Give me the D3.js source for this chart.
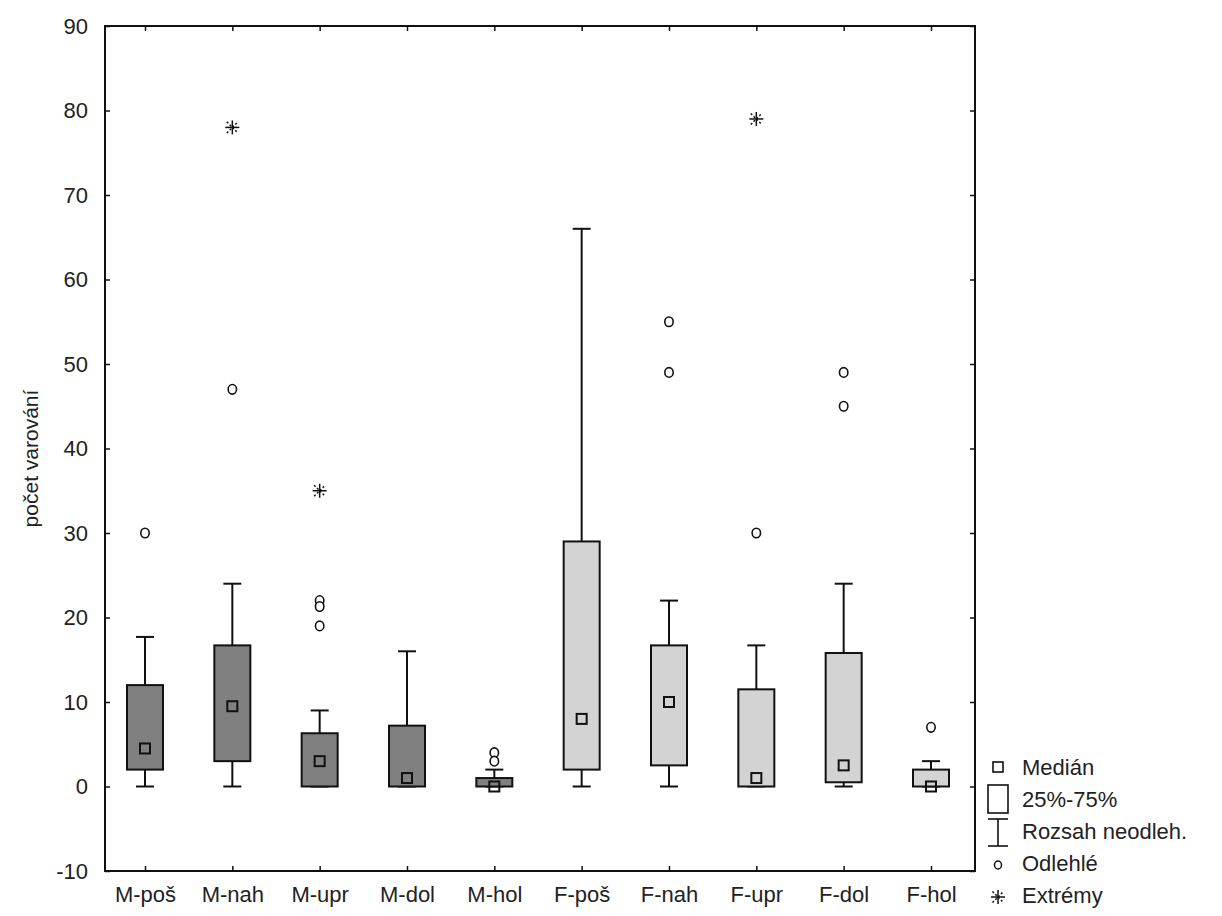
<!DOCTYPE html>
<html>
<head>
<meta charset="utf-8">
<script src="https://cdn.jsdelivr.net/npm/d3@7"></script>
<style>
body { margin: 0; background: #fff; }
text { font-family: "Liberation Sans", Arial, sans-serif; fill: #222; }
</style>
</head>
<body>
<svg width="1222" height="916"></svg>
<script>
// data
var categories = ["M-poš", "M-nah", "M-upr", "M-dol", "M-hol", "F-poš", "F-nah", "F-upr", "F-dol", "F-hol"];
var medians   = [4.5, 9.5, 3, 1, 0, 8, 10, 1, 2.5, 0];
var q1        = [2, 3, 0, 0, 0, 2, 2.5, 0, 0.5, 0];
var q3        = [12, 16.7, 6.3, 7.2, 1, 29, 16.7, 11.5, 15.8, 2];
var whiskLow  = [0, 0, 0, 0, 0, 0, 0, 0, 0, 0];
var whiskHigh = [17.7, 24, 9, 16, 2, 66, 22, 16.7, 24, 3];
var outliers  = [[30], [47], [22, 21.3, 19], [], [4, 3], [], [55, 49], [30], [49, 45], [7]];
var extremes  = [[], [78], [35], [], [], [], [], [79], [], []];
var yTicks = [-10, 0, 10, 20, 30, 40, 50, 60, 70, 80, 90];
var legendLabels = ["Medián", "25%-75%", "Rozsah neodleh.", "Odlehlé", "Extrémy"];

var svg = d3.select("svg");
var pLeft = 105, pRight = 975, pTop = 26, pBottom = 871;
var fs = 22;

var x = d3.scalePoint().domain(categories).range([145, 931]);
var y = d3.scaleLinear().domain([-10, 90]).range([pBottom, pTop]);

function fillFor(c) { return c[0] == "M" ? "#808080" : "#d3d3d3"; }

// frame
svg.append("rect")
    .attr("x", pLeft).attr("y", pTop)
    .attr("width", pRight - pLeft).attr("height", pBottom - pTop)
    .attr("fill", "none").attr("stroke", "#111").attr("stroke-width", 2);

function styleAxis(g) {
    g.select(".domain").remove();
    g.selectAll("line").attr("stroke", "#111").attr("stroke-width", 1.5);
    g.selectAll("text").attr("font-size", fs).attr("fill", "#222")
        .attr("font-family", "Liberation Sans, Arial, sans-serif");
}

// axes with inward ticks
svg.append("g").attr("transform", "translate(" + pLeft + ",0)")
    .call(d3.axisLeft(y).tickValues(yTicks).tickSizeInner(-5).tickSizeOuter(0).tickPadding(17)
        .tickFormat(function(d) { return String(d); }))
    .call(styleAxis);
svg.append("g").attr("transform", "translate(" + pRight + ",0)")
    .call(d3.axisRight(y).tickValues(yTicks).tickSizeInner(-5).tickSizeOuter(0).tickFormat(""))
    .call(styleAxis);
svg.append("g").attr("transform", "translate(0," + pBottom + ")")
    .call(d3.axisBottom(x).tickSizeInner(-5).tickSizeOuter(0).tickPadding(15))
    .call(styleAxis);
svg.append("g").attr("transform", "translate(0," + pTop + ")")
    .call(d3.axisTop(x).tickSizeInner(-5).tickSizeOuter(0).tickFormat(""))
    .call(styleAxis);

// y label
svg.append("text")
    .attr("transform", "translate(38," + ((pTop + pBottom) / 2 + 10) + ") rotate(-90)")
    .attr("text-anchor", "middle")
    .attr("font-size", 21)
    .text("počet varování");

var boxW = 36, capW = 18, medS = 10;

var g = svg.selectAll(".box").data(categories).enter().append("g").attr("class", "box");

// whiskers
g.append("line")
    .attr("x1", function(d) { return x(d); }).attr("x2", function(d) { return x(d); })
    .attr("y1", function(d, i) { return y(whiskLow[i]); })
    .attr("y2", function(d, i) { return y(whiskHigh[i]); })
    .attr("stroke", "#111").attr("stroke-width", 2);
g.append("line")
    .attr("x1", function(d) { return x(d) - capW / 2; }).attr("x2", function(d) { return x(d) + capW / 2; })
    .attr("y1", function(d, i) { return y(whiskHigh[i]); })
    .attr("y2", function(d, i) { return y(whiskHigh[i]); })
    .attr("stroke", "#111").attr("stroke-width", 2);
g.append("line")
    .attr("x1", function(d) { return x(d) - capW / 2; }).attr("x2", function(d) { return x(d) + capW / 2; })
    .attr("y1", function(d, i) { return y(whiskLow[i]); })
    .attr("y2", function(d, i) { return y(whiskLow[i]); })
    .attr("stroke", "#111").attr("stroke-width", 2);

// boxes
g.append("rect")
    .attr("x", function(d) { return x(d) - boxW / 2; })
    .attr("y", function(d, i) { return y(q3[i]); })
    .attr("width", boxW)
    .attr("height", function(d, i) { return y(q1[i]) - y(q3[i]); })
    .attr("fill", function(d) { return fillFor(d); })
    .attr("stroke", "#111").attr("stroke-width", 2);

// medians
g.append("rect")
    .attr("x", function(d) { return x(d) - medS / 2; })
    .attr("y", function(d, i) { return y(medians[i]) - medS / 2; })
    .attr("width", medS).attr("height", medS)
    .attr("fill", "none")
    .attr("stroke", "#111").attr("stroke-width", 2);

function drawStar(sel, cx, cy) {
    var s = 7, d = 5.5;
    var st = sel.append("g").attr("stroke", "#111").attr("stroke-width", 1.5);
    st.append("line").attr("x1", cx).attr("x2", cx).attr("y1", cy - s).attr("y2", cy + s);
    st.append("line").attr("x1", cx - s).attr("x2", cx + s).attr("y1", cy).attr("y2", cy);
    st.append("line").attr("x1", cx - d).attr("x2", cx + d).attr("y1", cy - d).attr("y2", cy + d)
        .attr("stroke-dasharray", "2,2");
    st.append("line").attr("x1", cx - d).attr("x2", cx + d).attr("y1", cy + d).attr("y2", cy - d)
        .attr("stroke-dasharray", "2,2");
}

// outliers and extremes
categories.forEach(function(c, i) {
    outliers[i].forEach(function(v) {
        svg.append("ellipse")
            .attr("cx", x(c)).attr("cy", y(v))
            .attr("rx", 4.2).attr("ry", 4.8)
            .attr("fill", "#fff").attr("stroke", "#111").attr("stroke-width", 1.6);
    });
    extremes[i].forEach(function(v) {
        drawStar(svg, x(c), y(v));
    });
});

// legend
var lx = 998, ly = 767, step = 32;
svg.append("rect").attr("x", lx - 5).attr("y", ly - 5).attr("width", 10).attr("height", 10)
    .attr("fill", "#fff").attr("stroke", "#111").attr("stroke-width", 1.6);
svg.append("rect").attr("x", lx - 10).attr("y", ly + step - 14).attr("width", 20).attr("height", 28)
    .attr("fill", "#fff").attr("stroke", "#111").attr("stroke-width", 1.6);
var wy = ly + 2 * step;
svg.append("line").attr("x1", lx).attr("x2", lx).attr("y1", wy - 12).attr("y2", wy + 15)
    .attr("stroke", "#111").attr("stroke-width", 1.6);
svg.append("line").attr("x1", lx - 10).attr("x2", lx + 10).attr("y1", wy - 12).attr("y2", wy - 12)
    .attr("stroke", "#111").attr("stroke-width", 1.6);
svg.append("line").attr("x1", lx - 10).attr("x2", lx + 10).attr("y1", wy + 15).attr("y2", wy + 15)
    .attr("stroke", "#111").attr("stroke-width", 1.6);
svg.append("ellipse").attr("cx", lx).attr("cy", ly + 3 * step + 2).attr("rx", 3.5).attr("ry", 4)
    .attr("fill", "#fff").attr("stroke", "#111").attr("stroke-width", 1.5);
drawStar(svg, lx, ly + 4 * step + 2);

svg.selectAll(".leg").data(legendLabels).enter().append("text")
    .attr("x", 1022)
    .attr("y", function(d, i) { return ly + i * step + 8; })
    .attr("font-size", fs)
    .text(function(d) { return d; });
</script>
</body>
</html>
